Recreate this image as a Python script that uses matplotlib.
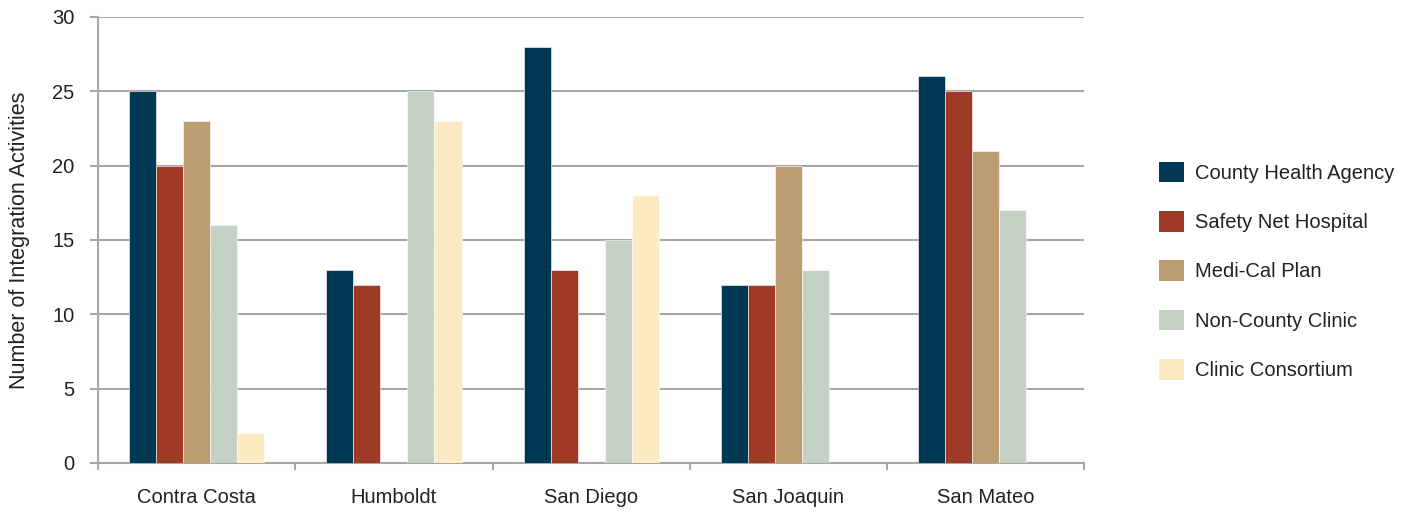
import numpy as np
import matplotlib.pyplot as plt
from matplotlib.patches import Patch

plt.rcParams['font.family'] = ['Liberation Sans', 'DejaVu Sans']

counties = ['Contra Costa', 'Humboldt', 'San Diego', 'San Joaquin', 'San Mateo']
series = ['County Health Agency', 'Safety Net Hospital', 'Medi-Cal Plan',
          'Non-County Clinic', 'Clinic Consortium']
county_health = [25, 13, 28, 12, 26]
safety_net = [20, 12, 13, 12, 25]
medi_cal = [23, 0, 0, 20, 21]
non_county = [16, 25, 15, 13, 17]
consortium = [2, 23, 18, 0, 0]
colors = ['#003753', '#a03a28', '#bc9d71', '#c5d1c5', '#fcebc2']

values = [county_health, safety_net, medi_cal, non_county, consortium]

fig = plt.figure(figsize=(14.09, 5.13), dpi=100)
ax = fig.add_axes([0.0696, 0.0975, 0.7, 0.8695])

x = np.arange(len(counties))
w = 0.137
for i, (name, vals) in enumerate(zip(series, values)):
    ax.bar(x + (i - 2) * w, vals, w, color=colors[i], edgecolor='white',
           linewidth=0.4, label=name, zorder=3)

grid_c = '#a6a6a6'
txt_c = '#222222'
ax.set_ylim(0, 30)
ax.set_xlim(-0.5, len(counties) - 0.5)
ax.set_yticks(range(0, 31, 5))
ax.yaxis.grid(True, color=grid_c, linewidth=1.5, zorder=0)
ax.tick_params(axis='y', length=6, color=grid_c, width=1.5, labelsize=14.5,
               pad=11, labelcolor=txt_c)
ax.set_xticks(x)
ax.set_xticklabels(counties, fontsize=14.5, color=txt_c)
ax.tick_params(axis='x', length=0, pad=18)
ax.set_xticks(np.arange(-0.5, len(counties)), minor=True)
ax.tick_params(axis='x', which='minor', length=5, color=grid_c, width=1.5)
for s in ['top', 'right']:
    ax.spines[s].set_visible(False)
for s in ['left', 'bottom']:
    ax.spines[s].set_color(grid_c)
    ax.spines[s].set_linewidth(1.5)
ax.set_ylabel('Number of Integration Activities', fontsize=15.5, labelpad=16,
              color=txt_c)

handles = [Patch(facecolor=c, label=n) for c, n in zip(colors, series)]
leg = fig.legend(handles=handles, loc='center left', bbox_to_anchor=(0.810, 0.472),
                 frameon=False, fontsize=14.5, handlelength=1.2, handleheight=1.2,
                 labelspacing=1.4, handletextpad=0.55)
for t in leg.get_texts():
    t.set_color(txt_c)

fig.savefig('out.png', dpi=100)
